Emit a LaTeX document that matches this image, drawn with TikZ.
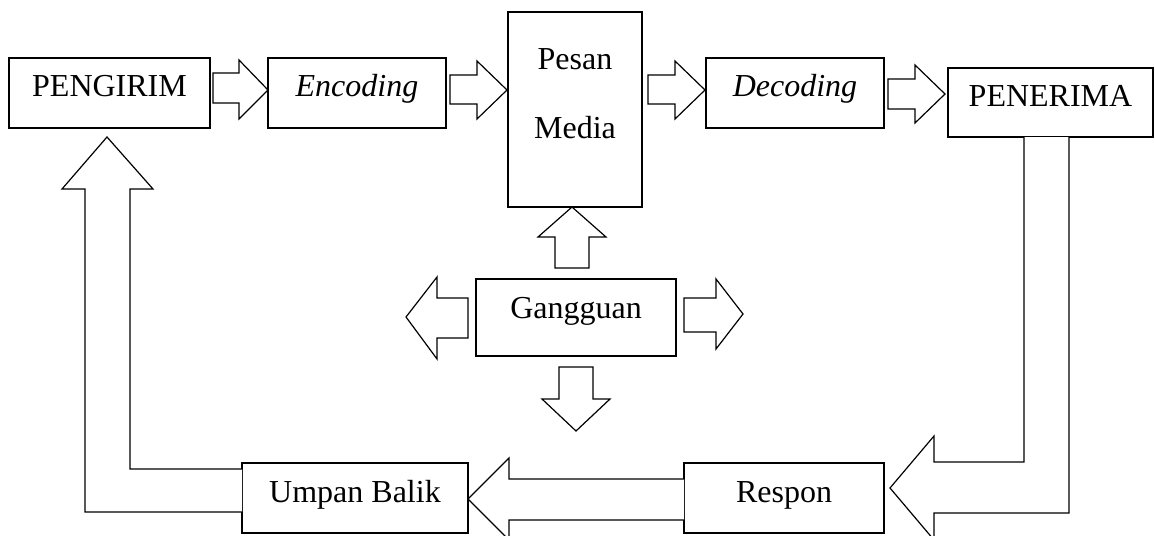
\documentclass[tikz,border=0pt]{standalone}
\usepackage{fontspec}
\setmainfont{Liberation Serif}
\begin{document}
\begin{tikzpicture}[x=0.5pt,y=-0.5pt,
  box/.style={draw=black, line width=0.6pt, fill=white, inner sep=0pt,
    font=\fontsize{16}{19}\selectfont, text height=10pt, text depth=6pt},
  lbl/.style={inner sep=0pt, anchor=base, font=\fontsize{16}{19}\selectfont},
  blockarrow/.style={draw=black, line width=0.6pt, line join=miter, fill=white}]
\useasboundingbox (0,0) rectangle (1155,535);
% boxes
\node[box, minimum width=100.5pt, minimum height=35pt] (pengirim) at (109.5,93) {PENGIRIM};
\node[box, minimum width=89pt, minimum height=35pt] (encoding) at (357,93) {\itshape Encoding};
\node[box, minimum width=67pt, minimum height=97.5pt] (media) at (575,109.5) {};
\node[lbl] (pesan) at (575,70) {Pesan};
\node[lbl] (medialbl) at (575,138) {Media};
\node[box, minimum width=89pt, minimum height=35pt] (decoding) at (795,93) {\itshape Decoding};
\node[box, minimum width=102.5pt, minimum height=34.5pt] (penerima) at (1050.5,102.5) {PENERIMA};
\node[box, minimum width=100pt, minimum height=38.5pt, text height=6.5pt] (gangguan) at (576,317.5) {Gangguan};
\node[box, minimum width=113pt, minimum height=35pt] (umpan) at (355,498) {Umpan Balik};
\node[box, minimum width=100pt, minimum height=35pt] (respon) at (784,498) {Respon};
% block arrows along the top
\draw[blockarrow] (213,73) -- (239,73) -- (239,60) -- (268,90) -- (239,119) -- (239,103) -- (213,103) -- cycle;
\draw[blockarrow] (450,75) -- (477,75) -- (477,61) -- (507,90) -- (477,119) -- (477,104) -- (450,104) -- cycle;
\draw[blockarrow] (648,75) -- (675,75) -- (675,61) -- (705,90) -- (675,119) -- (675,104) -- (648,104) -- cycle;
\draw[blockarrow] (888,79) -- (915,79) -- (915,65) -- (945,94) -- (915,123) -- (915,109) -- (888,109) -- cycle;
% feedback arrows
\draw[blockarrow] (1024,137) -- (1024,462) -- (934,462) -- (934,436) -- (890,488) -- (934,540) -- (934,513) -- (1069,513) -- (1069,137);
\draw[blockarrow] (684,479) -- (509,479) -- (509,458) -- (468,499) -- (509,540) -- (509,520) -- (684,520);
\draw[blockarrow] (242,512) -- (85,512) -- (85,189) -- (62,189) -- (107,137) -- (153,189) -- (130,189) -- (130,469) -- (242,469);
% noise arrows
\draw[blockarrow] (555,268) -- (555,237) -- (538,237) -- (572,207) -- (606,237) -- (589,237) -- (589,268) -- cycle;
\draw[blockarrow] (468,298) -- (437,298) -- (437,277) -- (406,317) -- (437,359) -- (437,338) -- (468,338) -- cycle;
\draw[blockarrow] (684,298) -- (716,298) -- (716,279) -- (743,314) -- (716,349) -- (716,332) -- (684,332) -- cycle;
\draw[blockarrow] (559,367) -- (593,367) -- (593,399) -- (610,399) -- (576,431) -- (542,399) -- (559,399) -- cycle;
\end{tikzpicture}
\end{document}
